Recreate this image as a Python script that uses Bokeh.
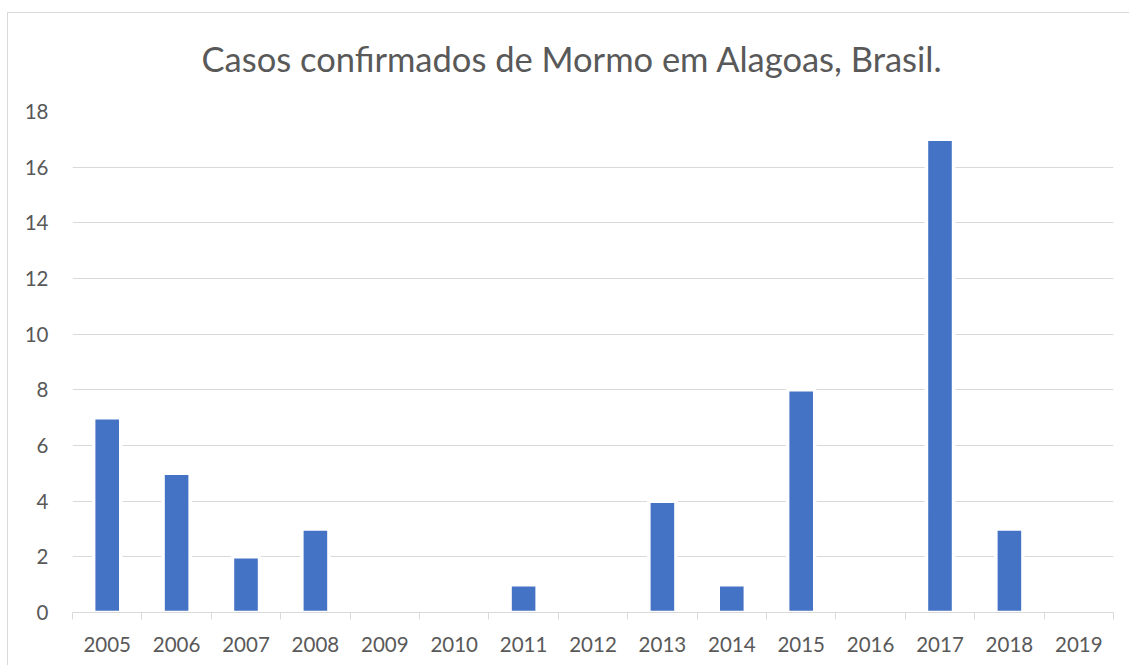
from bokeh.plotting import figure
from bokeh.models import FixedTicker, Range1d, Title
from bokeh.embed import file_html
from bokeh.resources import INLINE

years = ["2005", "2006", "2007", "2008", "2009", "2010", "2011", "2012",
         "2013", "2014", "2015", "2016", "2017", "2018", "2019"]
cases = [7, 5, 2, 3, 0, 0, 1, 0, 4, 1, 8, 0, 17, 3, 0]
y_ticks = [0, 2, 4, 6, 8, 10, 12, 14, 16, 18]
title_text = "Casos confirmados de Mormo em Alagoas, Brasil."

FONT = "Lato"
TXT = "#595959"
GRID = "#d9d9d9"

centers = [i + 0.5 for i in range(len(years))]

p = figure(width=1122, height=653, output_backend="svg", toolbar_location=None,
           x_range=Range1d(0, len(years)), y_range=Range1d(0, 18),
           min_border_left=64, min_border_right=17, min_border_top=98,
           min_border_bottom=54)
p.title = None
spacer = Title(text=" ", text_font=FONT, text_font_size="1px", standoff=8)
p.add_layout(spacer, "above")
t = Title(text=title_text, align="left", offset=129, text_font=FONT,
          text_font_size="34.5px", text_font_style="normal", text_color=TXT,
          standoff=44)
p.add_layout(t, "above")

p.styles = {"margin-top": "12px", "margin-left": "7px",
            "border-top": "1px solid #d9d9d9",
            "border-left": "1px solid #d9d9d9"}

p.vbar(x=centers, top=cases, width=0.39, fill_color="#4472c4",
       line_color="white", line_width=3.5)

p.outline_line_color = None
p.background_fill_color = "white"
p.border_fill_color = "white"

p.xgrid.grid_line_color = None
p.ygrid.grid_line_color = GRID
p.ygrid.grid_line_width = 1
p.ygrid.ticker = FixedTicker(ticks=y_ticks)

xa = p.xaxis[0]
xa.ticker = FixedTicker(ticks=centers, minor_ticks=list(range(len(years) + 1)))
xa.major_label_overrides = {c: y for c, y in zip(centers, years)}
xa.major_tick_out = 0
xa.major_tick_in = 0
xa.minor_tick_out = 7
xa.minor_tick_in = 0
xa.minor_tick_line_color = GRID
xa.minor_tick_line_width = 1
xa.axis_line_color = GRID
xa.axis_line_width = 1
xa.major_label_text_font = FONT
xa.major_label_text_font_size = "20.5px"
xa.major_label_text_color = TXT
xa.major_label_standoff = 17

ya = p.yaxis[0]
ya.ticker = FixedTicker(ticks=y_ticks)
ya.axis_line_color = None
ya.major_tick_line_color = None
ya.minor_tick_line_color = None
ya.major_tick_out = 0
ya.major_tick_in = 0
ya.major_label_text_font = FONT
ya.major_label_text_font_size = "20.5px"
ya.major_label_text_color = TXT
ya.major_label_standoff = 24

open("out.html", "w").write(file_html(p, INLINE))
